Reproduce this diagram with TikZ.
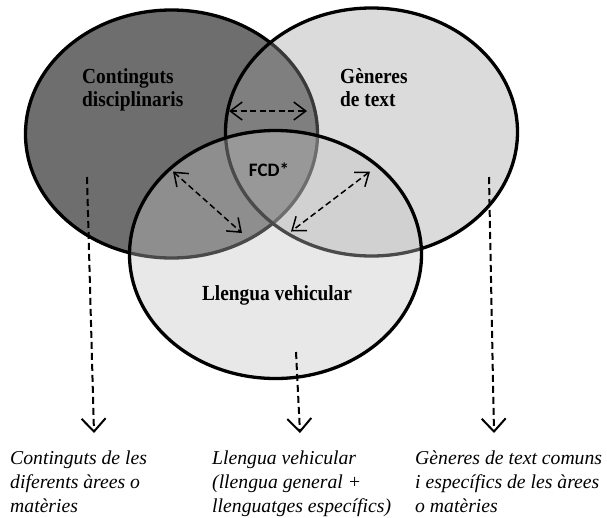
\documentclass[tikz,border=0pt]{standalone}
\usepackage{fontspec}
\setmainfont{Liberation Serif}
\newfontfamily\titlefont[FakeStretch=0.9]{Liberation Serif}
\newfontfamily\labelsans{Carlito}
\usetikzlibrary{arrows.meta,shapes.geometric}

% fills of the three sets (the two later ones are laid over with transparency)
\definecolor{contfill}{gray}{0.431}
\definecolor{genfill}{gray}{0.624}
\definecolor{llenfill}{gray}{0.763}

\begin{document}
\begin{tikzpicture}[x=1pt,y=-1pt,
  setshape/.style={ellipse, draw=black, line width=3.3pt,
    minimum width=292pt, minimum height=248pt, inner sep=0pt},
  settitle/.style={font=\titlefont\bfseries\fontsize{21.5}{23}\selectfont,
    align=left, inner sep=0pt},
  note/.style={font=\itshape\fontsize{19.7}{24}\selectfont,
    align=left, inner sep=0pt},
  linkarrow/.style={line width=1.5pt, dash pattern=on 6pt off 3.5pt,
    {Straight Barb[length=12pt,width=18pt]}-{Straight Barb[length=12pt,width=18pt]}},
  downarrow/.style={line width=2pt, dash pattern=on 7pt off 4pt,
    -{Straight Barb[length=13pt,width=24pt]}}]

\useasboundingbox (0,0) rectangle (607,517);
\fill[white] (0,0) rectangle (607,517);

% the three overlapping sets
\node[setshape, fill=contfill] (cont) at (171.5,134) {};
\node[setshape, fill=genfill, fill opacity=0.366] (gen) at (371.5,132) {};
\node[setshape, fill=llenfill, fill opacity=0.379] (llen) at (275.5,254.5) {};

% set titles (base anchor sits on the last line)
\node[settitle, anchor=base west] (contT) at (82,106) {Continguts\\disciplinaris};
\node[settitle, anchor=base west] (genT) at (340,106) {Gèneres\\de text};
\node[settitle, anchor=base] (llenT) at (277,300) {Llengua vehicular};
\node[font=\labelsans\bfseries\fontsize{19}{20}\selectfont, inner sep=0pt]
  (fcd) at (269,170) {FCD*};

% links between the sets
\coordinate (lk1a) at (229,111);
\coordinate (lk1b) at (307,111);
\coordinate (lk2a) at (173,171.5);
\coordinate (lk2b) at (242,233);
\coordinate (lk3a) at (370,171.5);
\coordinate (lk3b) at (291,231.5);
\draw[linkarrow] (lk1a) -- (lk1b);
\draw[linkarrow] (lk2a) -- (lk2b);
\draw[linkarrow] (lk3a) -- (lk3b);

% descriptions below
\node[note, anchor=base west] (contN) at (10,512)
  {Continguts de les\\diferents àrees o\\matèries};
\node[note, anchor=base west] (llenN) at (212,512)
  {Llengua vehicular\\(llengua general +\\llenguatges específics)};
\node[note, anchor=base west] (genN) at (415,512)
  {Gèneres de text comuns\\i específics de les àrees\\o matèries};

\coordinate (d1a) at (87,177);
\coordinate (d1b) at (94,433);
\coordinate (d2a) at (296,352);
\coordinate (d2b) at (300,433);
\coordinate (d3a) at (489,177);
\coordinate (d3b) at (494,433);
\draw[downarrow] (d1a) -- (d1b);
\draw[downarrow] (d2a) -- (d2b);
\draw[downarrow] (d3a) -- (d3b);

\end{tikzpicture}
\end{document}
